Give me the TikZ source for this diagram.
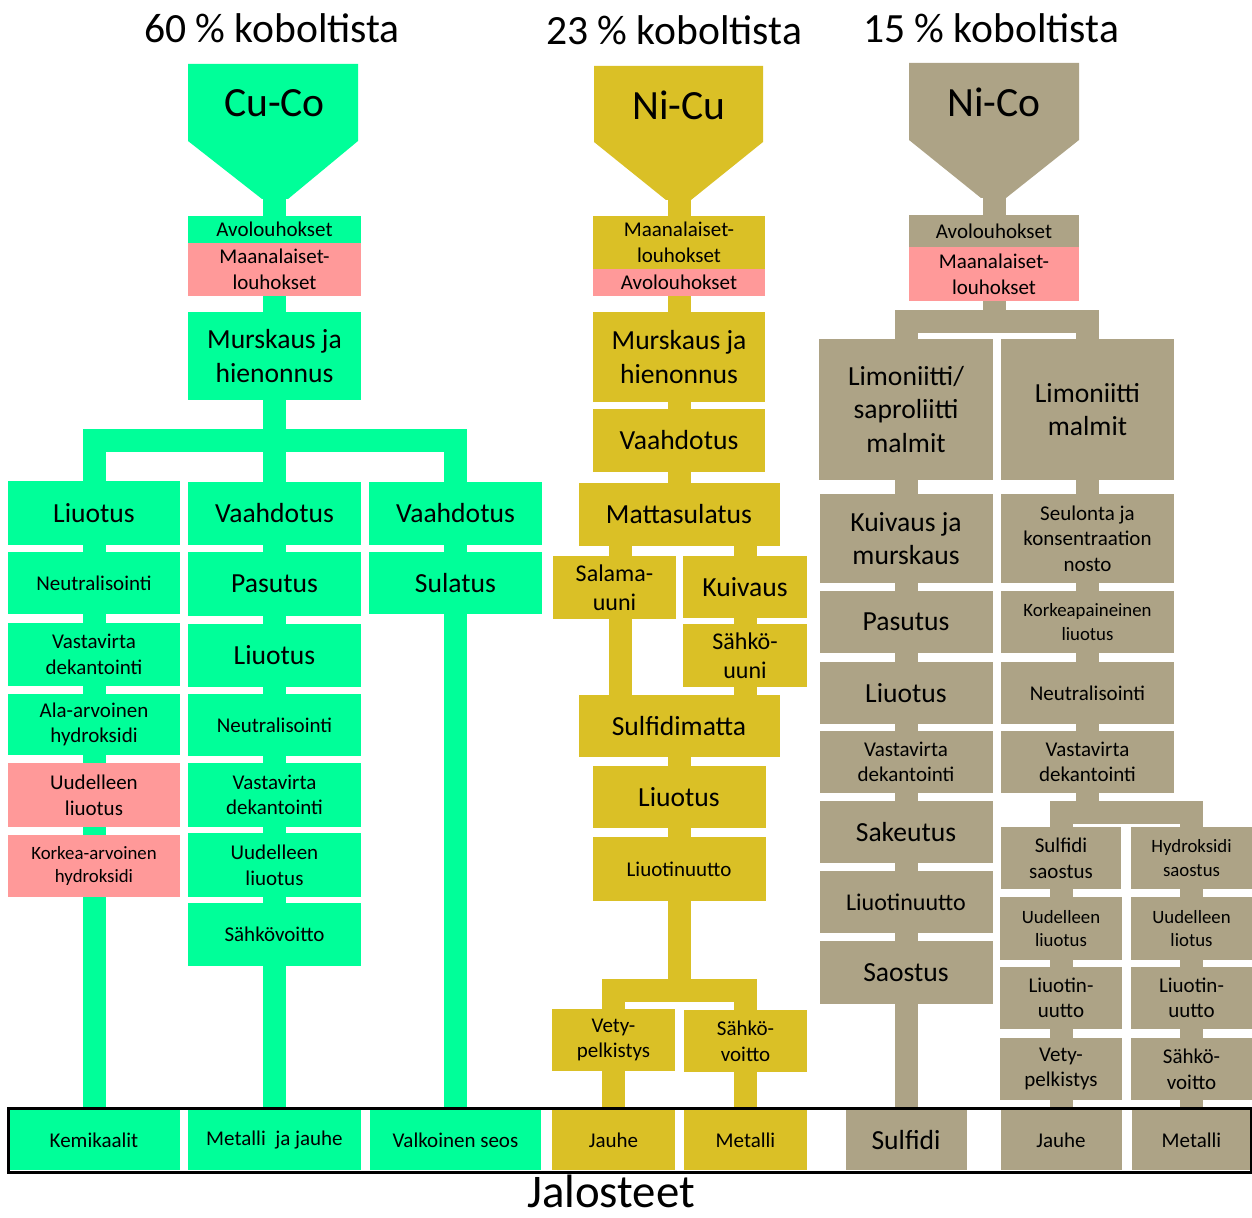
\documentclass[tikz,border=0pt]{standalone}
\usepackage{fontspec}
\setmainfont{Carlito}
\usetikzlibrary{backgrounds}
\definecolor{oregreen}{RGB}{0,255,153}
\definecolor{orepink}{RGB}{255,153,153}
\definecolor{oreyellow}{RGB}{218,192,38}
\definecolor{oretaupe}{RGB}{173,163,134}

\tikzset{
  box/.style={inner sep=0pt, align=center},
  sz/.style 2 args={minimum width=#1*0.5pt, minimum height=#2*0.5pt},
  gbox/.style={box, fill=oregreen},
  ybox/.style={box, fill=oreyellow},
  tbox/.style={box, fill=oretaupe},
  pbox/.style={box, fill=orepink},
  big/.style={font=\fontsize{13.8}{16.6}\selectfont},
  mid/.style={font=\fontsize{12}{14.6}\selectfont},
  med/.style={font=\fontsize{10.5}{12.8}\selectfont},
  sml/.style={font=\fontsize{9.4}{11.6}\selectfont},
  hop/.style={font=\fontsize{20.8}{25}\selectfont},
  title/.style={anchor=base, font=\fontsize{20.8}{25}\selectfont},
  pipe/.style={line width=11.5pt},
  gpipe/.style={pipe, draw=oregreen},
  ypipe/.style={pipe, draw=oreyellow},
  tpipe/.style={pipe, draw=oretaupe}
}

\begin{document}
\begin{tikzpicture}[x=0.5pt, y=-0.5pt]
        \useasboundingbox (0,0) rectangle (1252,1218);

        % Titles
        \node[title] (tcu) at (272,43) {60 \% koboltista};
        \node[title] (tni) at (674,45) {23 \% koboltista};
        \node[title] (tco) at (991,43) {15 \% koboltista};

        % Hoppers
        \fill[oregreen] (188,64) -- (358,64) -- (358,141) -- (288,199) -- (262,199) -- (188,141) -- cycle;
        \node[hop] (cuco) at (274.5,103) {Cu-Co};
        \fill[oreyellow] (594,66) -- (763,66) -- (763,142) -- (691,200) -- (666,200) -- (594,142) -- cycle;
        \node[hop] (nicu) at (679,105) {Ni-Cu};
        \fill[oretaupe] (909,63) -- (1079,63) -- (1079,140) -- (1006,198) -- (981,198) -- (909,140) -- cycle;
        \node[hop] (nico) at (994,102) {Ni-Co};

        % Cu-Co: mining and crushing
        \node[gbox, sz={173}{27}, med] (avo1) at (274.5,229.5) {Avolouhokset};
        \node[pbox, sz={173}{53}, med] (maa1) at (274.5,269.5) {Maanalaiset-\\louhokset};
        \node[gbox, sz={173}{88}, big] (mur1) at (274.5,356) {Murskaus ja\\hienonnus};
        \coordinate (gsplit) at (274.5,441);

        % Cu-Co: left branch
        \node[gbox, sz={172}{64}, big] (lio1) at (94,513) {Liuotus};
        \node[gbox, sz={172}{62}, med] (neu1) at (94,583) {Neutralisointi};
        \node[gbox, sz={172}{63}, med] (vas1) at (94,654.5) {Vastavirta\\dekantointi};
        \node[gbox, sz={172}{61}, med] (ala1) at (94,724.5) {Ala-arvoinen\\hydroksidi};
        \node[pbox, sz={172}{64}, med] (uud1) at (94,795) {Uudelleen\\liuotus};
        \node[pbox, sz={172}{62}, sml] (kor1) at (94,866) {Korkea-arvoinen\\hydroksidi};

        % Cu-Co: middle branch
        \node[gbox, sz={173}{63}, big] (vaa2) at (274.5,513.5) {Vaahdotus};
        \node[gbox, sz={173}{64}, big] (pas2) at (274.5,584) {Pasutus};
        \node[gbox, sz={173}{63}, big] (lio2) at (274.5,655.5) {Liuotus};
        \node[gbox, sz={173}{62}, med] (neu2) at (274.5,725) {Neutralisointi};
        \node[gbox, sz={173}{64}, med] (vas2) at (274.5,795) {Vastavirta\\dekantointi};
        \node[gbox, sz={173}{64}, med] (uud2) at (274.5,865) {Uudelleen\\liuotus};
        \node[gbox, sz={173}{63}, med] (sah2) at (274.5,934.5) {Sähkövoitto};

        % Cu-Co: right branch
        \node[gbox, sz={173}{63}, big] (vaa3) at (455.5,513.5) {Vaahdotus};
        \node[gbox, sz={173}{62}, big] (sul3) at (455.5,583) {Sulatus};

        % Ni-Cu
        \node[ybox, sz={172}{53}, med] (maa2) at (679,242.5) {Maanalaiset-\\louhokset};
        \node[pbox, sz={172}{27}, med] (avo2) at (679,282.5) {Avolouhokset};
        \node[ybox, sz={172}{90}, big] (mur2) at (679,357) {Murskaus ja\\hienonnus};
        \node[ybox, sz={172}{63}, big] (vaa4) at (679,440.5) {Vaahdotus};
        \node[ybox, sz={201}{63}, big] (mat) at (679,514.5) {Mattasulatus};
        \node[ybox, sz={123}{63}, mid] (sal) at (614.5,587.5) {Salama-\\uuni};
        \coordinate (salx) at (620,587.5);
        \node[ybox, sz={124}{62}, big] (kui) at (745,587) {Kuivaus};
        \node[ybox, sz={124}{63}, mid] (sahu) at (745,655.5) {Sähkö-\\uuni};
        \node[ybox, sz={201}{62}, big] (sfm) at (679,726) {Sulfidimatta};
        \node[ybox, sz={173}{62}, big] (lio4) at (679,797) {Liuotus};
        \node[ybox, sz={173}{64}, med] (luu4) at (679,869) {Liuotinuutto};
        \coordinate (ysplit) at (679,990);
        \node[ybox, sz={123}{62}, med] (vet4) at (613.5,1040) {Vety-\\pelkistys};
        \node[ybox, sz={123}{62}, med] (saw4) at (745.5,1041) {Sähkö-\\voitto};

        % Ni-Co
        \node[tbox, sz={170}{32}, med] (avo5) at (994,231) {Avolouhokset};
        \node[pbox, sz={170}{54}, med] (maa5) at (994,274) {Maanalaiset-\\louhokset};
        \coordinate (tsplit) at (994,321.5);
        \node[tbox, sz={174}{141}, big] (lim1) at (906,409.5) {Limoniitti/\\saproliitti\\malmit};
        \node[tbox, sz={173}{141}, big] (lim2) at (1087.5,409.5) {Limoniitti\\malmit};

        % Ni-Co: left branch
        \node[tbox, sz={173}{89}, big] (kmu) at (906,538.5) {Kuivaus ja\\murskaus};
        \node[tbox, sz={173}{62}, big] (pas5) at (906,622) {Pasutus};
        \node[tbox, sz={173}{62}, big] (lio5) at (906,693) {Liuotus};
        \node[tbox, sz={173}{62}, med] (vas5) at (906,762) {Vastavirta\\dekantointi};
        \node[tbox, sz={173}{62}, big] (sak5) at (906,832) {Sakeutus};
        \node[tbox, sz={173}{62}, mid] (luu5) at (906,902) {Liuotinuutto};
        \node[tbox, sz={173}{63}, big] (sao5) at (906,972.5) {Saostus};

        % Ni-Co: right branch
        \node[tbox, sz={173}{89}, med] (seu) at (1087.5,538.5) {Seulonta ja\\konsentraation\\nosto};
        \node[tbox, sz={173}{62}, sml] (kpl) at (1087.5,622) {Korkeapaineinen\\liuotus};
        \node[tbox, sz={173}{62}, med] (neu5) at (1087.5,693) {Neutralisointi};
        \node[tbox, sz={173}{62}, med] (vas6) at (1087.5,762) {Vastavirta\\dekantointi};
        \coordinate (rsplit) at (1087.5,812);
        \node[tbox, sz={120}{62}, med] (sfs) at (1061,858) {Sulfidi\\saostus};
        \node[tbox, sz={121}{62}, sml] (hys) at (1191.5,858) {Hydroksidi\\saostus};
        \node[tbox, sz={122}{63}, sml] (uud6) at (1061,928.5) {Uudelleen\\liuotus};
        \node[tbox, sz={121}{63}, sml] (uud7) at (1191.5,928.5) {Uudelleen\\liotus};
        \node[tbox, sz={122}{62}, med] (lu6) at (1061,998) {Liuotin-\\uutto};
        \node[tbox, sz={121}{62}, med] (lu7) at (1191.5,998) {Liuotin-\\uutto};
        \node[tbox, sz={122}{62}, med] (vet6) at (1061,1069) {Vety-\\pelkistys};
        \node[tbox, sz={121}{62}, med] (saw7) at (1191.5,1069) {Sähkö-\\voitto};

        % Products
        \node[gbox, sz={172}{60}, med] (kem) at (94,1140) {Kemikaalit};
        \node[gbox, sz={173}{60}, med] (met2) at (274.5,1140) {Metalli\ \ ja jauhe};
        \node[gbox, sz={171}{60}, med] (val3) at (455.5,1140) {Valkoinen seos};
        \node[ybox, sz={123}{60}, med] (jau4) at (613.5,1140) {Jauhe};
        \node[ybox, sz={123}{60}, med] (met4) at (745.5,1140) {Metalli};
        \node[tbox, sz={121}{60}, big] (sulf) at (906,1140) {Sulfidi};
        \node[tbox, sz={121}{60}, med] (jau6) at (1061,1140) {Jauhe};
        \node[tbox, sz={120}{60}, med] (met7) at (1191.5,1140) {Metalli};
        \draw[line width=1.5pt] (8,1108) rectangle (1251,1172);
        \node[anchor=base, font=\fontsize{23.4}{28}\selectfont] (jal) at (611,1207) {Jalosteet};

        % Pipes
        \begin{scope}[on background layer]
            \draw[gpipe] (cuco) -- (avo1) -- (maa1) -- (mur1) -- (vaa2) -- (pas2) -- (lio2) -- (neu2) -- (vas2) -- (uud2) -- (sah2) -- (met2);
            \draw[gpipe] (mur1) -- (gsplit);
            \draw[gpipe] (lio1) |- (gsplit) -| (vaa3);
            \draw[gpipe] (lio1) -- (neu1) -- (vas1) -- (ala1) -- (uud1) -- (kor1) -- (kem);
            \draw[gpipe] (vaa3) -- (sul3) -- (val3);

            \draw[ypipe] (nicu) -- (maa2) -- (avo2) -- (mur2) -- (vaa4) -- (mat);
            \draw[ypipe] (salx |- mat.south) -- (salx |- sfm.north);
            \draw[ypipe] (kui |- mat.south) -- (kui) -- (sahu) -- (sahu |- sfm.north);
            \draw[ypipe] (sfm) -- (lio4) -- (luu4) -- (ysplit);
            \draw[ypipe] (vet4) |- (ysplit) -| (saw4);
            \draw[ypipe] (vet4) -- (jau4);
            \draw[ypipe] (saw4) -- (met4);

            \draw[tpipe] (nico) -- (avo5) -- (maa5) -- (tsplit);
            \draw[tpipe] (lim1) |- (tsplit) -| (lim2);
            \draw[tpipe] (lim1) -- (kmu) -- (pas5) -- (lio5) -- (vas5) -- (sak5) -- (luu5) -- (sao5) -- (sulf);
            \draw[tpipe] (lim2) -- (seu) -- (kpl) -- (neu5) -- (vas6) -- (rsplit);
            \draw[tpipe] (sfs) |- (rsplit) -| (hys);
            \draw[tpipe] (sfs) -- (uud6) -- (lu6) -- (vet6) -- (jau6);
            \draw[tpipe] (hys) -- (uud7) -- (lu7) -- (saw7) -- (met7);
        \end{scope}

    \end{tikzpicture}
\end{document}
